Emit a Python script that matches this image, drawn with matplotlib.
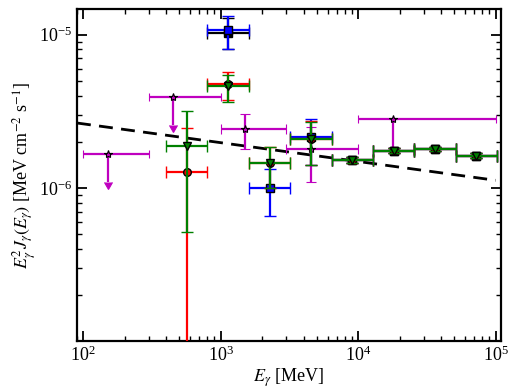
import numpy as np
import matplotlib
matplotlib.use("Agg")
import matplotlib.pyplot as plt

plt.rcParams['font.family'] = ['Liberation Serif', 'DejaVu Serif']
plt.rcParams['mathtext.fontset'] = 'stix'

# --- energy bins (MeV) shared by the binned series ---
bin_lo = np.array([400, 800, 1600, 3200, 6400, 12800, 25600, 51200])
bin_hi = np.array([800, 1600, 3200, 6400, 12800, 25600, 51200, 102400])

# red circles
red_idx = [0, 1, 2, 3, 4, 5, 6, 7]
red_val = [1.27e-6, 4.76e-6, 1.45e-6, 2.08e-6, 1.52e-6, 1.75e-6, 1.79e-6, 1.62e-6]
red_up = [2.46e-6, 5.67e-6, 1.86e-6, 2.75e-6, 1.58e-6, 1.81e-6, 1.85e-6, 1.68e-6]
red_lo = [1.0e-8, 3.74e-6, 1.0e-6, 1.41e-6, 1.46e-6, 1.69e-6, 1.73e-6, 1.56e-6]

# green down-triangles
grn_idx = [0, 1, 2, 3, 4, 5, 6, 7]
grn_val = [1.87e-6, 4.61e-6, 1.45e-6, 2.08e-6, 1.52e-6, 1.75e-6, 1.79e-6, 1.62e-6]
grn_up = [3.19e-6, 5.44e-6, 1.86e-6, 2.69e-6, 1.58e-6, 1.81e-6, 1.85e-6, 1.68e-6]
grn_lo = [5.14e-7, 3.63e-6, 1.0e-6, 1.41e-6, 1.46e-6, 1.69e-6, 1.73e-6, 1.56e-6]

# blue squares
blu_idx = [1, 2, 3, 4, 5, 6, 7]
blu_val = [1.08e-5, 9.96e-7, 2.14e-6, 1.52e-6, 1.75e-6, 1.79e-6, 1.62e-6]
blu_up = [1.32e-5, 1.32e-6, 2.82e-6, 1.58e-6, 1.81e-6, 1.85e-6, 1.68e-6]
blu_lo = [8.05e-6, 6.58e-7, 1.41e-6, 1.46e-6, 1.69e-6, 1.73e-6, 1.56e-6]

# black squares (mostly hidden under the others)
blk_idx = [1, 4, 5, 6, 7]
blk_val = [1.03e-5, 1.52e-6, 1.75e-6, 1.79e-6, 1.62e-6]
blk_up = [1.28e-5, 1.58e-6, 1.81e-6, 1.85e-6, 1.68e-6]
blk_lo = [8.0e-6, 1.46e-6, 1.69e-6, 1.73e-6, 1.56e-6]

# magenta stars: own bins, some are upper limits
mag_E = [150, 450, 1500, 4500, 18000]
mag_lo_E = [100, 300, 1000, 3000, 10000]
mag_hi_E = [300, 1000, 3000, 10000, 100000]
mag_val = [1.67e-6, 3.94e-6, 2.41e-6, 1.79e-6, 2.82e-6]
mag_up = [1.67e-6, 3.94e-6, 3.03e-6, 2.48e-6, 2.82e-6]
mag_lo = [1.10e-6, 2.57e-6, 1.79e-6, 1.09e-6, 1.86e-6]
mag_is_ul = [True, True, False, False, True]

# dashed power-law line (end points)
line_E = [90, 1.0e5]
line_F = [2.65e-6, 1.12e-6]

fig = plt.figure(figsize=(5.10, 3.92), dpi=100)
ax = fig.add_axes([0.151, 0.130, 0.831, 0.847])


def binned(idx, val, up, lo, color, marker, z):
    idx = np.array(idx)
    lo_e, hi_e = bin_lo[idx], bin_hi[idx]
    x = np.sqrt(lo_e * hi_e)
    val, up, lo = np.array(val), np.array(up), np.array(lo)
    ax.errorbar(x, val, xerr=[x - lo_e, hi_e - x], yerr=[val - lo, up - val],
                fmt=marker, color=color, mfc=color, mec='k', mew=1.0, ms=5.5,
                elinewidth=1.6, capsize=4.2, capthick=1.6, zorder=z)


ax.plot(line_E, line_F, color='k', ls=(0, (5, 3)), lw=2.0, zorder=2)

mE = np.array(mag_E)
mv, mu, ml = np.array(mag_val), np.array(mag_up), np.array(mag_lo)
ul = np.array(mag_is_ul)
xerr = [mE - np.array(mag_lo_E), np.array(mag_hi_E) - mE]
ax.errorbar(mE[ul], mv[ul], xerr=[xerr[0][ul], xerr[1][ul]], yerr=(mv - ml)[ul],
            uplims=True, fmt='*', color='m', mfc='m', mec='k', mew=0.8, ms=6,
            elinewidth=1.6, capsize=3.2, capthick=1.6, zorder=3)
ax.errorbar(mE[~ul], mv[~ul], xerr=[xerr[0][~ul], xerr[1][~ul]],
            yerr=[(mv - ml)[~ul], (mu - mv)[~ul]],
            fmt='*', color='m', mfc='m', mec='k', mew=0.8, ms=6,
            elinewidth=1.6, capsize=3.6, capthick=1.6, zorder=3)

binned(blk_idx, blk_val, blk_up, blk_lo, 'k', 's', 4)
binned(blu_idx, blu_val, blu_up, blu_lo, 'b', 's', 5)
binned(red_idx, red_val, red_up, red_lo, 'r', 'o', 6)
binned(grn_idx, grn_val, grn_up, grn_lo, 'g', 'v', 7)

ax.set_xscale('log')
ax.set_yscale('log')
ax.set_xlim(90, 1.09e5)
ax.set_ylim(1.0e-7, 1.47e-5)
ax.set_yticks([1e-6, 1e-5])
ax.tick_params(which='both', direction='in', top=True, right=True, labelsize=13)
ax.tick_params(which='major', length=7, width=1.3)
ax.tick_params(which='minor', length=3.5, width=1.0)
for s in ax.spines.values():
    s.set_linewidth(1.6)

ax.set_xlabel(r'$E_\gamma$ [MeV]', fontsize=13, labelpad=1)
ax.set_ylabel(r'$E_\gamma^2 J_\gamma(E_\gamma)$ [MeV cm$^{-2}$ s$^{-1}$]', fontsize=13, labelpad=1)

fig.savefig('out.png', dpi=100)
